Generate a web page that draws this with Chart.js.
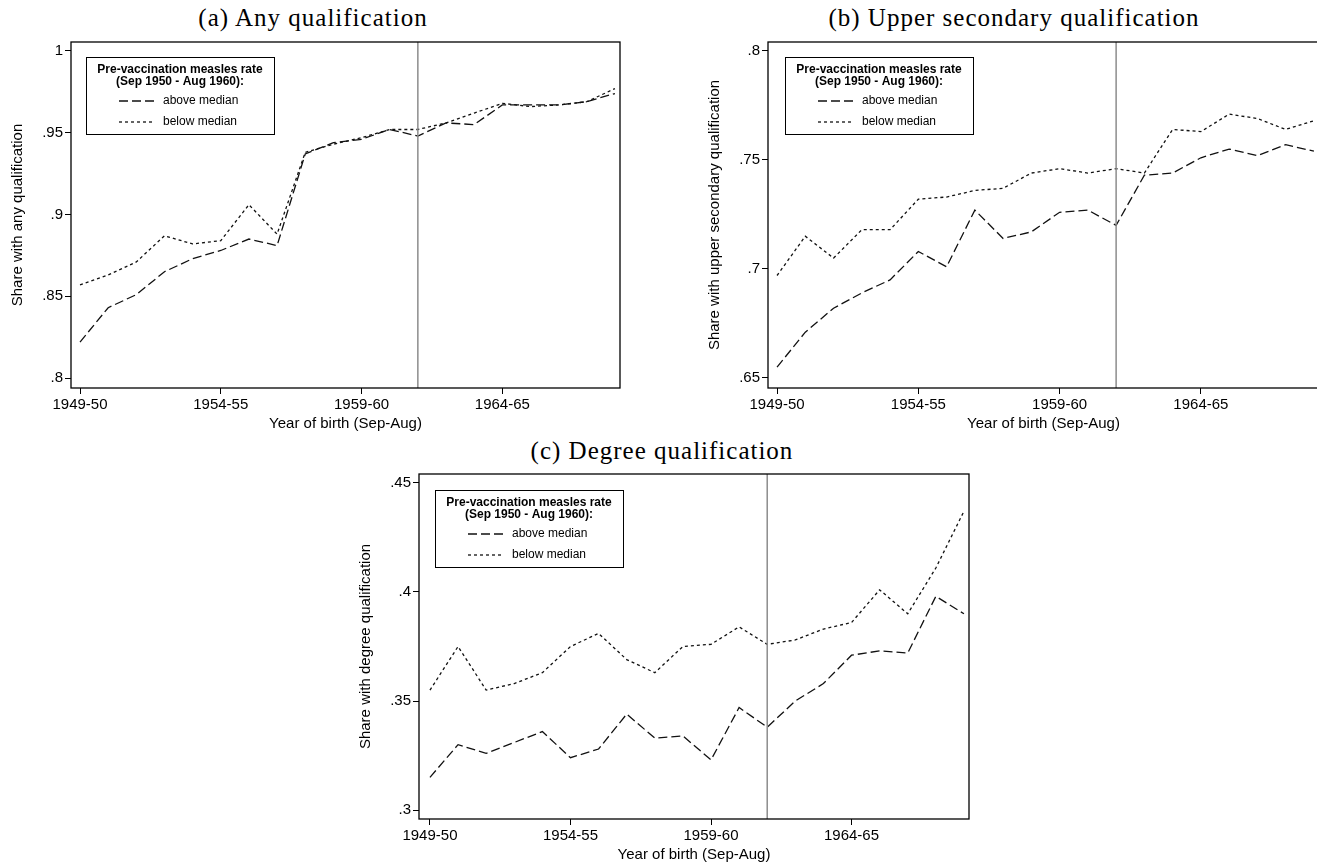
<!DOCTYPE html>
<html>
<head>
<meta charset="utf-8">
<script src="https://cdn.jsdelivr.net/npm/chart.js@4.4.1/dist/chart.umd.min.js"></script>
<style>
  html, body { margin: 0; padding: 0; background: #fff; overflow: hidden; }
  body { width: 1317px; height: 867px; position: relative; }
  .ptitle {
    position: absolute;
    font-family: "Liberation Serif", serif;
    font-size: 25px;
    letter-spacing: 1px;
    line-height: 1;
    color: #000;
    white-space: nowrap;
    transform: translateX(-50%);
  }
  canvas { position: absolute; }
</style>
</head>
<body>
<div class="ptitle" style="left:313px; top:5px">(a) Any qualification</div>
<div class="ptitle" style="left:1014px; top:5px">(b) Upper secondary qualification</div>
<div class="ptitle" style="left:662px; top:438px">(c) Degree qualification</div>

<canvas id="chartA" width="640" height="410" style="left:0px; top:30px"></canvas>
<canvas id="chartB" width="640" height="410" style="left:697px; top:30px"></canvas>
<canvas id="chartC" width="640" height="410" style="left:348px; top:462px"></canvas>

<script>
// ---------- data ----------
const years = ["1949-50", "1950-51", "1951-52", "1952-53", "1953-54", "1954-55", "1955-56",
  "1956-57", "1957-58", "1958-59", "1959-60", "1960-61", "1961-62", "1962-63", "1963-64",
  "1964-65", "1965-66", "1966-67", "1967-68", "1968-69"];
const xTickIdx = [0, 5, 10, 15];
const vaccineIdx = 12; // 1961-62 cohort

const anyAbove = [0.822, 0.843, 0.851, 0.865, 0.873, 0.878, 0.885, 0.881, 0.937, 0.944,
  0.946, 0.952, 0.948, 0.956, 0.955, 0.967, 0.967, 0.967, 0.969, 0.974];
const anyBelow = [0.857, 0.863, 0.871, 0.887, 0.882, 0.884, 0.906, 0.888, 0.938, 0.943,
  0.947, 0.952, 0.952, 0.956, 0.962, 0.968, 0.966, 0.967, 0.969, 0.977];

const upperAbove = [0.655, 0.671, 0.682, 0.689, 0.695, 0.708, 0.701, 0.727, 0.714, 0.717,
  0.726, 0.727, 0.720, 0.743, 0.744, 0.751, 0.755, 0.752, 0.757, 0.754];
const upperBelow = [0.697, 0.715, 0.705, 0.718, 0.718, 0.732, 0.733, 0.736, 0.737, 0.744,
  0.746, 0.744, 0.746, 0.744, 0.764, 0.763, 0.771, 0.769, 0.764, 0.768];

const degreeAbove = [0.315, 0.330, 0.326, 0.331, 0.336, 0.324, 0.328, 0.344, 0.333, 0.334,
  0.323, 0.347, 0.338, 0.350, 0.358, 0.371, 0.373, 0.372, 0.398, 0.390];
const degreeBelow = [0.355, 0.375, 0.355, 0.358, 0.363, 0.375, 0.381, 0.369, 0.363, 0.375,
  0.376, 0.384, 0.376, 0.378, 0.383, 0.386, 0.401, 0.390, 0.411, 0.437];

const anyTicks = [0.8, 0.85, 0.9, 0.95, 1];
const upperTicks = [0.65, 0.7, 0.75, 0.8];
const degreeTicks = [0.3, 0.35, 0.4, 0.45];

const legendTitle = ["Pre-vaccination measles rate", "(Sep 1950 - Aug 1960):"];
const seriesNames = ["above median", "below median"];

const FONT = '"Liberation Sans", Arial, sans-serif';

// ---------- frame + legend box drawn inside plot region ----------
const boxLegend = {
  id: "boxLegend",
  afterDatasetsDraw(chart, args, opts) {
    const { ctx, chartArea: a } = chart;
    ctx.save();
    ctx.strokeStyle = "#000";
    ctx.lineWidth = 1.3;
    ctx.strokeRect(a.left, a.top, a.right - a.left, a.bottom - a.top);

    const bx = Math.round(a.left + opts.dx), by = Math.round(a.top + opts.dy);
    const bw = 188, bh = 77;
    ctx.fillStyle = "#fff";
    ctx.fillRect(bx, by, bw, bh);
    ctx.lineWidth = 1;
    ctx.strokeRect(bx + 0.5, by + 0.5, bw, bh);

    ctx.fillStyle = "#000";
    ctx.textBaseline = "middle";
    ctx.textAlign = "center";
    ctx.font = "bold 12px " + FONT;
    legendTitle.forEach((t, i) => ctx.fillText(t, bx + bw / 2, by + 13 + i * 12));

    ctx.textAlign = "left";
    ctx.font = "12px " + FONT;
    chart.data.datasets.slice(1).forEach((ds, i) => {
      const yy = by + 44 + i * 21;
      ctx.beginPath();
      ctx.setLineDash(ds.borderDash);
      ctx.lineWidth = ds.borderWidth;
      ctx.strokeStyle = ds.borderColor;
      ctx.moveTo(bx + 33, yy);
      ctx.lineTo(bx + 68, yy);
      ctx.stroke();
      ctx.setLineDash([]);
      ctx.fillText(ds.label, bx + 77, yy);
    });
    ctx.restore();
  }
};

const toPoints = arr => arr.map((v, i) => ({ x: i, y: v }));

function makePanel(id, cfg) {
  return new Chart(document.getElementById(id), {
    type: "line",
    data: {
      datasets: [
        {
          label: "vaccine",
          data: [{ x: vaccineIdx, y: cfg.yMin }, { x: vaccineIdx, y: cfg.yMax }],
          borderColor: "#8c8c8c",
          borderWidth: 1.5,
          pointRadius: 0
        },
        {
          label: seriesNames[0],
          data: toPoints(cfg.above),
          borderColor: "#111",
          borderWidth: 1.3,
          borderDash: [9, 4],
          pointRadius: 0,
          tension: 0
        },
        {
          label: seriesNames[1],
          data: toPoints(cfg.below),
          borderColor: "#111",
          borderWidth: 1.3,
          borderDash: [3, 3],
          pointRadius: 0,
          tension: 0
        }
      ]
    },
    options: {
      responsive: false,
      animation: false,
      events: [],
      layout: { padding: { top: 12, right: cfg.padRight, bottom: 0, left: 0 } },
      plugins: {
        legend: { display: false },
        tooltip: { enabled: false },
        boxLegend: { dx: cfg.legDx, dy: cfg.legDy }
      },
      scales: {
        x: {
          type: "linear",
          min: cfg.xMin,
          max: 19.18,
          afterBuildTicks: s => { s.ticks = xTickIdx.map(v => ({ value: v })); },
          afterFit: s => { s.height = cfg.xAxisH; },
          ticks: {
            callback: v => years[v],
            color: "#000",
            font: { family: FONT, size: 15 },
            padding: 2,
            maxRotation: 0,
            autoSkip: false
          },
          grid: { drawOnChartArea: false, tickLength: 6, color: "#000", lineWidth: 1 },
          border: { display: false },
          title: {
            display: true,
            text: "Year of birth (Sep-Aug)",
            color: "#000",
            font: { family: FONT, size: 15 },
            padding: { top: 0, bottom: cfg.xTitlePad }
          }
        },
        y: {
          min: cfg.yMin,
          max: cfg.yMax,
          afterBuildTicks: s => { s.ticks = cfg.yTicks.map(v => ({ value: v })); },
          afterFit: s => { s.width = 71; },
          ticks: {
            callback: v => String(v).replace(/^0/, ""),
            color: "#000",
            font: { family: FONT, size: 15 },
            padding: 2
          },
          grid: { drawOnChartArea: false, tickLength: 6, color: "#000", lineWidth: 1 },
          border: { display: false },
          title: {
            display: true,
            text: cfg.yTitle,
            color: "#000",
            font: { family: FONT, size: 15 },
            padding: { top: 9, bottom: 0 }
          }
        }
      }
    },
    plugins: [boxLegend]
  });
}

makePanel("chartA", {
  above: anyAbove, below: anyBelow, yTicks: anyTicks,
  yMin: 0.7939, yMax: 1.0055, xMin: -0.32,
  yTitle: "Share with any qualification",
  padRight: 20, xAxisH: 52, xTitlePad: 7, legDx: 15, legDy: 15
});

makePanel("chartB", {
  above: upperAbove, below: upperBelow, yTicks: upperTicks,
  yMin: 0.6454, yMax: 0.8041, xMin: -0.32,
  yTitle: "Share with upper secondary qualification",
  padRight: 18, xAxisH: 52, xTitlePad: 7, legDx: 17, legDy: 15
});

makePanel("chartC", {
  above: degreeAbove, below: degreeBelow, yTicks: degreeTicks,
  yMin: 0.2959, yMax: 0.4541, xMin: -0.39,
  yTitle: "Share with degree qualification",
  padRight: 19, xAxisH: 53, xTitlePad: 8, legDx: 16, legDy: 16
});
</script>
</body>
</html>
